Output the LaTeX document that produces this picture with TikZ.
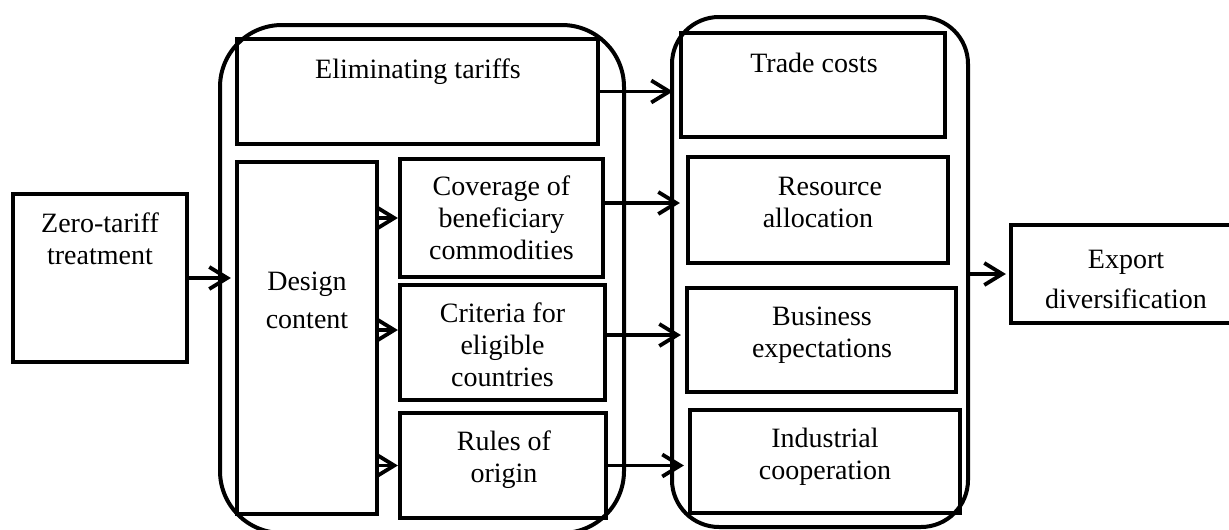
\documentclass[tikz,border=0pt]{standalone}
\usepackage{fontspec}
\setmainfont{Liberation Serif}
\usetikzlibrary{arrows.meta,fit}
\begin{document}
\begin{tikzpicture}[x=1pt,y=-1pt,
  box/.style={draw, line width=4.2pt, inner sep=0pt},
  cont/.style={draw, line width=4pt, inner sep=0pt},
  txt/.style={align=center, inner sep=0pt, anchor=north, font=\fontsize{28}{32}\selectfont},
  arr/.style={line width=3.8pt, -{Straight Barb[length=18pt,width=22pt]}}]
\useasboundingbox (0,0) rectangle (1229,530);
% containers
\node[cont, rounded corners=62pt, fit={(220,25)(624,533)}] (lc) {};
\node[cont, rounded corners=47pt, fit={(672,17)(968,527)}] (rc) {};
% boxes
\node[box, fit={(13,194)(187,362)}] (zero) {};
\node[box, fit={(237,39)(598,144)}] (elim) {};
\node[box, fit={(237,162)(377,514)}] (design) {};
\node[box, fit={(400,159)(603,277)}] (cov) {};
\node[box, fit={(400,285)(605,400)}] (cri) {};
\node[box, fit={(400,413)(606,518)}] (rules) {};
\node[box, fit={(681,33)(945,137)}] (trade) {};
\node[box, fit={(688,157)(948,263)}] (res) {};
\node[box, fit={(687,288)(956,392)}] (bus) {};
\node[box, fit={(690,410)(960,513)}] (ind) {};
\node[box, fit={(1011,225)(1241,323)}] (export) {};
% texts
\node[txt] (zeroT) at (100,213) {Zero-tariff\\treatment};
\node[txt] (elimT) at (418,59) {Eliminating tariffs};
\node[txt] (designT) at (307,271.6) {Design\\[6pt]content};
\node[txt] (covT) at (501.5,176) {Coverage of\\beneficiary\\commodities};
\node[txt] (criT) at (502.5,303) {Criteria for\\eligible\\countries};
\node[txt] (rulesT) at (504,431) {Rules of\\origin};
\node[txt] (tradeT) at (814,53) {Trade costs};
\node[txt] (resT) at (818,176.6) {\hspace*{24pt}Resource\\allocation};
\node[txt] (busT) at (822,306.6) {Business\\expectations};
\node[txt] (indT) at (825,428) {Industrial\\cooperation};
\node[txt] (expT) at (1126,249.6) {Export\\[8pt]diversification};
% helper coordinates
\coordinate (criIn) at ([yshift=12.5pt]cri.west);
\coordinate (covOut) at ([yshift=15pt]cov.east);
\coordinate (criOut) at ([yshift=7.5pt]cri.east);
% arrows
\draw[arr, shorten >=4pt] (zero.east) -- (zero.east -| design.west);
\draw[arr, shorten >=6pt] (elim.east) -- (elim.east -| trade.west);
\draw[arr] (cov.west -| design.east) -- (cov.west);
\draw[arr] (criIn -| design.east) -- (criIn);
\draw[arr] (rules.west -| design.east) -- (rules.west);
\draw[arr, shorten >=6pt] (covOut) -- (covOut -| res.west);
\draw[arr, shorten >=4pt] (criOut) -- (criOut -| bus.west);
\draw[arr, shorten >=4pt] (rules.east) -- (rules.east -| ind.west);
\draw[arr, shorten >=3pt] (export.west -| rc.east) -- (export.west);
\end{tikzpicture}
\end{document}
